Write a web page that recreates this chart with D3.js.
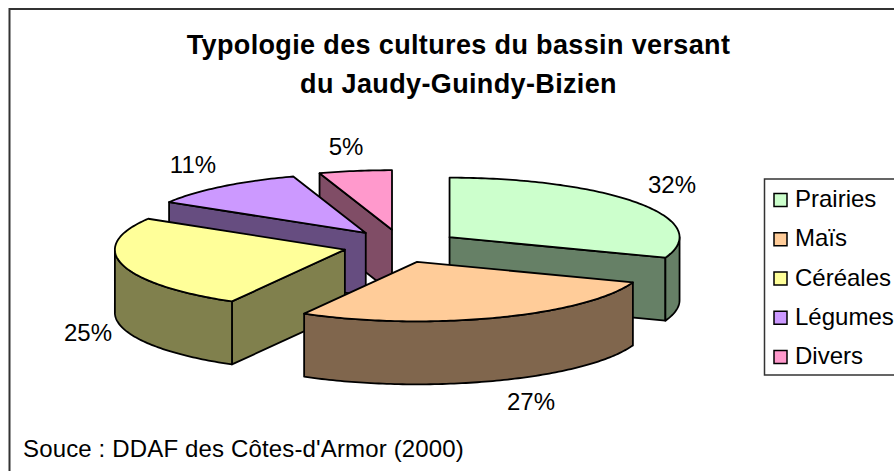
<!DOCTYPE html>
<html lang="fr">
<head>
<meta charset="UTF-8"/>
<title>Typologie des cultures</title>
<style>
  * { margin:0; padding:0 }
  body { background:#fff; overflow:hidden }
  svg { display:block }
  text { font-family:'Liberation Sans',Arial,sans-serif; fill:#000 }
</style>
</head>
<body>
<svg id="chart" width="894" height="471"></svg>
<script src="https://d3js.org/d3.v7.min.js"></script>
<script>
// data
const categories = ["Prairies","Maïs","Céréales","Légumes","Divers"];
const values = [32,27,25,11,5];
const topColors = ["#CCFFCC","#FFCC99","#FFFF99","#CC99FF","#FF99CC"];
const titleLines = ["Typologie des cultures du bassin versant","du Jaudy-Guindy-Bizien"];
const source = "Souce : DDAF des Côtes-d'Armor (2000)";

// 3D look
const cx = 401, cy = 246;
const rx = 230, ry = 59.5, depth = 63;
const pullX = 57.5, pullY = 16.5;
const deg = Math.PI/180;

const svg = d3.select("#chart");

// frame, only top and left are visible in the picture
svg.append("path").attr("d","M9.5,471V9H894").attr("fill","none")
  .attr("stroke","#333").attr("stroke-width",2);

// title
svg.selectAll(".title").data(titleLines).join("text").attr("class","title")
  .attr("x",458.5).attr("y",(d,i)=>54+i*39)
  .attr("text-anchor","middle").attr("font-weight","bold")
  .attr("font-size",27).attr("letter-spacing",0.36).text(d=>d);

svg.append("text").attr("x",23).attr("y",457).attr("font-size",24)
  .attr("letter-spacing",0.15).text(source);

// pie angles (radians, clockwise from the top)
const arcs = d3.pie().sort(null).value(d=>d)(values);

// the drawn slices are slightly skewed compared to the real share
const skew = d3.scaleLinear()
  .domain([0,arcs[0].endAngle,arcs[1].endAngle,2*Math.PI])
  .range([0,arcs[0].endAngle-5*deg,arcs[1].endAngle-3*deg,2*Math.PI]);

function pt(c,a,dz){
  return [c[0]+rx*Math.sin(a), c[1]-ry*Math.cos(a)+(dz||0)];
}
function rim(c,a0,a1,dz){
  const n = Math.max(2,Math.ceil((a1-a0)/(1*deg))), out = [];
  for(let i=0;i<=n;i++) out.push(pt(c,a0+(a1-a0)*i/n,dz));
  return out;
}
const line = d3.line();

const slices = arcs.map((d,i)=>{
  const mid = (d.startAngle+d.endAngle)/2;
  return {
    i,
    a0: skew(d.startAngle),
    a1: skew(d.endAngle),
    c: [cx+pullX*Math.sin(mid), cy-pullY*Math.cos(mid)],
    top: topColors[i],
    side: (c=>d3.rgb(c.r/2,c.g/2,c.b/2).formatHex())(d3.rgb(topColors[i]))
  };
});

// back to front
const order = [4,3,0,2,1];
const stroke = (sel)=>sel.attr("stroke","#000").attr("stroke-width",1.8).attr("stroke-linejoin","round");

order.forEach(k=>{
  const s = slices[k], g = svg.append("g");
  const wall = (a)=>{
    const p = pt(s.c,a), q = pt(s.c,a,depth);
    g.append("path").call(stroke).attr("fill",s.side)
      .attr("d",line([s.c,p,q,[s.c[0],s.c[1]+depth]])+"Z");
  };
  // cut faces seen from the front
  if(Math.sin(s.a0)<0) wall(s.a0);
  if(Math.sin(s.a1)>0 && s.a1<Math.PI) wall(s.a1);
  // outer wall, front half only
  const f0 = Math.max(s.a0,Math.PI/2), f1 = Math.min(s.a1,3*Math.PI/2);
  if(f1>f0){
    const up = rim(s.c,f0,f1), down = rim(s.c,f0,f1,depth).reverse();
    g.append("path").call(stroke).attr("fill",s.side).attr("d",line(up.concat(down))+"Z");
  }
  // top face
  g.append("path").call(stroke).attr("fill",s.top)
    .attr("d",line([s.c].concat(rim(s.c,s.a0,s.a1)))+"Z");
});

// percent labels
const labelPos = [[672,185],[531,402],[88,333],[193,165],[346,147]];
svg.selectAll(".pct").data(values).join("text").attr("class","pct")
  .attr("x",(d,i)=>labelPos[i][0]).attr("y",(d,i)=>labelPos[i][1]+8)
  .attr("text-anchor","middle").attr("font-size",24).text(d=>d+"%");

// legend
const legendY = d3.scalePoint().domain(categories).range([200,357]);
svg.append("path").attr("d","M894,179H764.5V375H894").attr("fill","none")
  .attr("stroke","#333").attr("stroke-width",1.5);
const items = svg.selectAll(".leg").data(categories).join("g").attr("class","leg")
  .attr("transform",d=>`translate(0,${legendY(d)})`);
items.append("rect").attr("x",774).attr("y",-6.5).attr("width",13).attr("height",13)
  .attr("fill",(d,i)=>topColors[i]).attr("stroke","#000").attr("stroke-width",1.5);
items.append("text").attr("x",795).attr("y",7).attr("font-size",24).text(d=>d);
</script>
</body>
</html>
